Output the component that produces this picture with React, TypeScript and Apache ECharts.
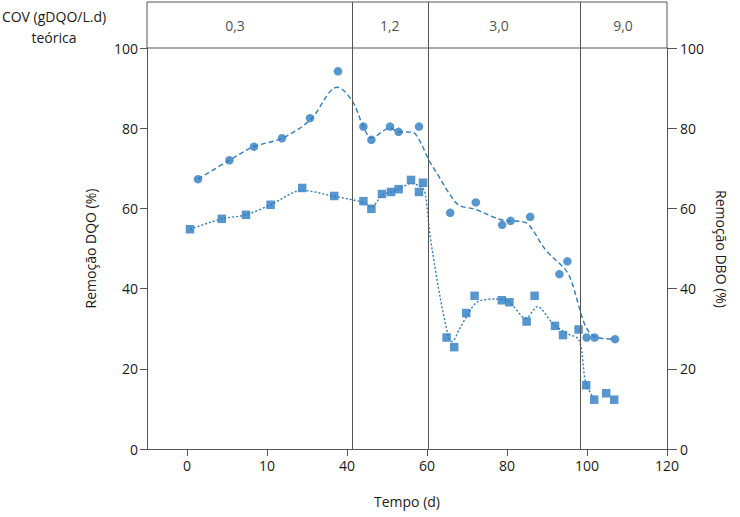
import React, { useEffect, useRef } from "react";
import * as echarts from "echarts";

// DQO removal (circles, left axis)
const dqoX = [2.75, 10.6, 16.75, 23.75, 30.75, 37.75, 44.1, 46.1, 50.75, 52.9, 58, 65.8, 72.2, 78.8, 80.9, 85.8, 93.1, 95.1, 99.9, 101.9, 107];
const dqoY = [67.3, 72.0, 75.4, 77.5, 82.5, 94.2, 80.4, 77.1, 80.4, 79.1, 80.4, 58.9, 61.5, 55.9, 56.9, 57.9, 43.6, 46.8, 27.8, 27.8, 27.4];
// DQO trend (dashed)
const dqoTrendX = [2.75, 10.6, 16.75, 23.75, 30.75, 37.6, 41.3, 44.1, 46.1, 50.75, 52.9, 56.3, 58, 60.5, 63, 65.5, 68, 72, 78.8, 83.8, 85.5, 89.7, 94.7, 96.3, 98, 99.7, 101.9, 107];
const dqoTrendY = [67.3, 72.0, 75.4, 77.5, 82.0, 90.2, 86.8, 80.4, 77.6, 80.0, 79.1, 79.0, 77.2, 72.0, 67.9, 63.8, 60.8, 59.8, 57.1, 56.7, 55.9, 49.6, 44.6, 41.3, 35.5, 30.5, 28.0, 27.4];

// DBO removal (squares, right axis)
const dboX = [0.75, 8.7, 14.75, 20.9, 28.8, 36.8, 44.1, 46.1, 48.75, 51, 52.9, 56, 58, 59, 64.9, 66.8, 69.8, 71.9, 78.7, 80.6, 84.9, 86.9, 92, 94, 97.9, 99.8, 101.8, 104.8, 106.8];
const dboY = [54.8, 57.4, 58.4, 60.9, 65.1, 63.1, 61.8, 59.9, 63.6, 64.1, 64.8, 67.1, 64.1, 66.4, 27.8, 25.4, 33.9, 38.2, 37.1, 36.6, 31.8, 38.2, 30.7, 28.4, 29.8, 15.9, 12.3, 13.9, 12.3];
// DBO trend (dotted)
const dboTrendX = [0.75, 8.7, 14.75, 20.9, 28.8, 36.8, 44.1, 46.1, 48.75, 51, 52.9, 56, 59, 59.7, 60.5, 61.3, 63.4, 65.5, 66.3, 68, 70.1, 72.6, 77.2, 80.5, 84.7, 87.6, 91.3, 94.7, 98, 99.7, 101.8];
const dboTrendY = [54.8, 57.4, 58.4, 60.9, 64.5, 63.0, 61.5, 60.3, 63.3, 64.1, 64.8, 66.2, 65.0, 62.9, 55.4, 49.6, 37.2, 27.6, 26.8, 29.7, 33.4, 36.7, 37.4, 36.7, 32.6, 35.5, 31.5, 28.9, 27.2, 16.4, 12.5];

// Phases (COV teórica)
const phaseLabels = ["0,3", "1,2", "3,0", "9,0"];
const phaseLabelX = [12, 50.7, 78, 109];
const phaseBounds = [41.3, 60.2, 98.3];

// Axis ticks
const xTickValues = [0, 20, 40, 60, 80, 100, 120];
const xTickLabels = ["0", "10", "40", "60", "80", "100", "120"];

const BLUE = "#2E7CC2";
const AXIS = "#555555";
const TXT = "#1a1a1a";
const FONT = "Open Sans";
const FS = 14;

const zip = (a: number[], b: number[]) => a.map((v, i) => [v, b[i]]);

export default function App() {
  const ref = useRef<HTMLDivElement>(null);
  useEffect(() => {
    if (!ref.current) return;
    const chart = echarts.init(ref.current, undefined, { renderer: "svg" });
    const sepLine = {
      silent: true,
      symbol: ["none", "none"],
      label: { show: false },
      lineStyle: { color: AXIS, width: 1, type: "solid" },
      data: phaseBounds.map((v) => ({ xAxis: v })),
    };
    chart.setOption({
      animation: false,
      textStyle: { fontFamily: FONT },
      grid: [
        { left: 147, right: 73, top: 48, bottom: 68, show: false, containLabel: false, outerBoundsMode: "none" },
        { left: 147, right: 73, top: 2, height: 46, show: true, borderColor: AXIS, borderWidth: 1, backgroundColor: "transparent", containLabel: false, outerBoundsMode: "none" },
      ],
      xAxis: [
        {
          type: "value",
          gridIndex: 0,
          min: -10,
          max: 120,
          name: "Tempo (d)",
          nameLocation: "middle",
          nameGap: 45,
          nameTextStyle: { color: TXT, fontSize: FS, fontFamily: FONT },
          axisLine: { show: true, onZero: false, lineStyle: { color: AXIS } },
          axisTick: { show: true, customValues: xTickValues, length: 7, lineStyle: { color: AXIS } },
          axisLabel: {
            customValues: xTickValues,
            color: TXT,
            fontSize: FS,
            fontFamily: FONT,
            margin: 9,
            formatter: (v: number) => xTickLabels[xTickValues.indexOf(v)] ?? "",
          },
          splitLine: { show: false },
        },
        {
          type: "value",
          gridIndex: 1,
          min: -10,
          max: 120,
          show: false,
        },
      ],
      yAxis: [
        {
          type: "value",
          gridIndex: 0,
          position: "left",
          min: 0,
          max: 100,
          interval: 20,
          name: "Remoção DQO (%)",
          nameLocation: "middle",
          nameGap: 50,
          nameTextStyle: { color: TXT, fontSize: FS, fontFamily: FONT },
          axisLine: { show: true, onZero: false, lineStyle: { color: AXIS } },
          axisTick: { show: true, length: 7, lineStyle: { color: AXIS } },
          axisLabel: { color: TXT, fontSize: FS, fontFamily: FONT, margin: 9 },
          splitLine: { show: false },
        },
        {
          type: "value",
          gridIndex: 0,
          position: "right",
          min: 0,
          max: 100,
          interval: 20,
          axisLine: { show: true, onZero: false, lineStyle: { color: AXIS } },
          axisTick: { show: true, length: 10, lineStyle: { color: AXIS } },
          axisLabel: { color: TXT, fontSize: FS, fontFamily: FONT, margin: 13 },
          splitLine: { show: false },
        },
        {
          type: "value",
          gridIndex: 1,
          min: 0,
          max: 1,
          show: false,
        },
      ],
      graphic: [
        {
          type: "text",
          x: 54,
          y: 6,
          style: {
            text: "COV (gDQO/L.d)\nteórica",
            fill: TXT,
            font: `${FS}px "${FONT}"`,
            align: "center",
            verticalAlign: "top",
            lineHeight: 21,
          },
        },
        {
          type: "text",
          x: 721,
          y: 249,
          rotation: -Math.PI / 2,
          style: {
            text: "Remoção DBO (%)",
            fill: TXT,
            font: `${FS}px "${FONT}"`,
            align: "center",
            verticalAlign: "middle",
          },
        },
      ],
      series: [
        {
          type: "line",
          xAxisIndex: 0,
          yAxisIndex: 0,
          data: dqoTrendX.map((x, i) => [x, dqoTrendY[i]]),
          smooth: 0.35,
          showSymbol: false,
          silent: true,
          lineStyle: { color: BLUE, width: 1.4, type: [5, 3] },
          z: 2,
        },
        {
          type: "line",
          xAxisIndex: 0,
          yAxisIndex: 1,
          data: dboTrendX.map((x, i) => [x, dboTrendY[i]]),
          smooth: 0.3,
          showSymbol: false,
          silent: true,
          lineStyle: { color: BLUE, width: 1.4, type: [2, 2] },
          z: 2,
        },
        {
          type: "scatter",
          name: "DQO",
          xAxisIndex: 0,
          yAxisIndex: 0,
          symbol: "circle",
          symbolSize: 8.5,
          itemStyle: { color: BLUE },
          data: zip(dqoX, dqoY),
          z: 3,
        },
        {
          type: "scatter",
          name: "DBO",
          xAxisIndex: 0,
          yAxisIndex: 1,
          symbol: "rect",
          symbolSize: 8.5,
          itemStyle: { color: BLUE },
          data: zip(dboX, dboY),
          z: 3,
        },
        {
          type: "line",
          xAxisIndex: 0,
          yAxisIndex: 0,
          data: [],
          markLine: sepLine,
        },
        {
          type: "scatter",
          xAxisIndex: 1,
          yAxisIndex: 2,
          symbolSize: 0,
          silent: true,
          data: phaseLabelX.map((x, i) => ({ value: [x, 0.5], name: phaseLabels[i] })),
          label: {
            show: true,
            position: "inside",
            formatter: (p: any) => p.name,
            color: TXT,
            fontSize: FS,
            fontFamily: FONT,
          },
          markLine: sepLine,
        },
      ],
    });
    return () => chart.dispose();
  }, []);
  return <div ref={ref} style={{ width: 740, height: 517, position: "absolute", left: 0, top: 0 }} />;
}
